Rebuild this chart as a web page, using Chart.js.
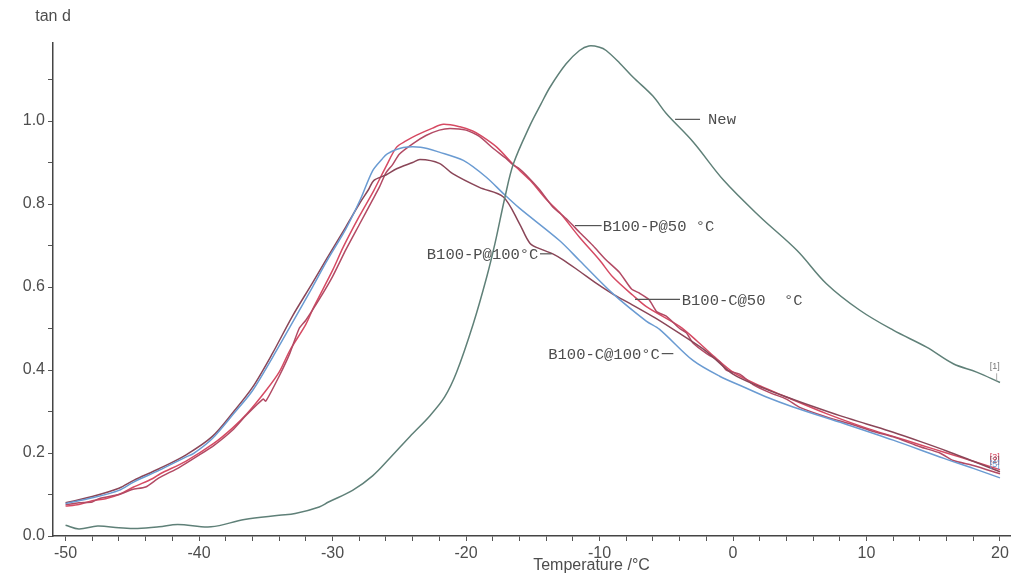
<!DOCTYPE html>
<html>
<head>
<meta charset="utf-8">
<script src="https://cdn.jsdelivr.net/npm/chart.js@4.4.1/dist/chart.umd.min.js"></script>
<style>
  html, body { margin: 0; padding: 0; background: #ffffff; }
  #wrap { width: 1014px; height: 581px; position: relative; }
</style>
</head>
<body>
<div id="wrap"><canvas id="chart"></canvas></div>
<script>
// Loss factor (tan d) versus temperature, DMA sweep
const tempNew = [-50, -49, -47.6, -46, -44.6, -43, -41.6, -39.1, -36.6, -34, -32.8, -31, -30.3, -28.5, -27, -25.7, -24.2, -22.7, -21.6, -20.7, -19.45, -18.45, -17.83, -17.08, -16.45, -15.2, -14.4, -13.7, -12.5, -11.5, -10.8, -10, -9.5, -8.5, -7.5, -6, -5, -3, -0.7, 2, 4.8, 7, 9.5, 12, 14.5, 16.5, 18.25, 20];
const tanNew = [0.026, 0.017, 0.024, 0.02, 0.018, 0.022, 0.028, 0.022, 0.04, 0.05, 0.054, 0.07, 0.082, 0.11, 0.145, 0.188, 0.24, 0.29, 0.335, 0.395, 0.512, 0.624, 0.705, 0.817, 0.897, 0.99, 1.04, 1.082, 1.138, 1.17, 1.181, 1.178, 1.17, 1.14, 1.106, 1.06, 1.018, 0.95, 0.857, 0.77, 0.688, 0.608, 0.544, 0.496, 0.455, 0.415, 0.395, 0.37];

const tempP50 = [-50, -49, -48, -47, -46, -44.9, -43.5, -42.9, -41, -38.9, -37.5, -36.4, -35, -34, -33.2, -32, -31.4, -30, -29.2, -28, -26.9, -26, -25.2, -24.5, -23.7, -22.5, -21.7, -20.45, -19.5, -18.95, -17.7, -16.45, -15.2, -13.96, -13, -11.5, -10, -9, -7.5, -6.46, -4, -2.7, -1.5, 0, 2, 4, 7, 10, 12, 14, 16, 18, 20];
const tanP50 = [0.072, 0.076, 0.085, 0.09, 0.1, 0.118, 0.138, 0.15, 0.18, 0.223, 0.26, 0.295, 0.35, 0.395, 0.447, 0.51, 0.552, 0.64, 0.696, 0.77, 0.833, 0.89, 0.937, 0.952, 0.966, 0.983, 0.992, 0.986, 0.976, 0.966, 0.937, 0.895, 0.857, 0.81, 0.78, 0.72, 0.665, 0.624, 0.58, 0.552, 0.505, 0.47, 0.435, 0.395, 0.362, 0.335, 0.295, 0.26, 0.24, 0.22, 0.2, 0.18, 0.16];

const tempC50 = [-50, -49, -48, -47.5, -46, -45, -44, -43, -41.5, -40, -38.9, -37.5, -36.5, -35.2, -35, -34, -33.2, -32.5, -32, -31, -30, -29, -28, -27, -26.5, -26, -25.5, -25, -24, -23, -22, -21.2, -20, -19, -18, -17, -16.5, -16, -15.5, -14.5, -13.5, -12.5, -11.5, -10.5, -9.5, -8.5, -7.6, -7, -6.3, -5.7, -5, -4, -3.5, -3, -2, -1, -0.5, 0.5, 1.5, 2.8, 4, 5, 7, 9, 10.5, 12, 14, 15.5, 16.5, 18, 20];
const tanC50 = [0.075, 0.08, 0.082, 0.09, 0.1, 0.112, 0.118, 0.14, 0.165, 0.195, 0.218, 0.255, 0.29, 0.33, 0.325, 0.385, 0.44, 0.5, 0.52, 0.57, 0.625, 0.69, 0.75, 0.81, 0.84, 0.875, 0.895, 0.92, 0.945, 0.965, 0.978, 0.982, 0.978, 0.963, 0.935, 0.91, 0.895, 0.885, 0.87, 0.835, 0.793, 0.765, 0.732, 0.7, 0.665, 0.635, 0.595, 0.585, 0.57, 0.54, 0.53, 0.5, 0.49, 0.465, 0.44, 0.42, 0.4, 0.39, 0.365, 0.345, 0.33, 0.31, 0.287, 0.268, 0.252, 0.239, 0.215, 0.2, 0.182, 0.17, 0.15];

const tempP100 = [-50, -48, -46, -44.9, -43, -41, -39, -37.4, -36, -34.5, -33, -31.5, -30.4, -29, -28, -27.3, -26.9, -26, -25.2, -24, -23.45, -22, -21, -19, -17.2, -16, -15.2, -14.3, -13.5, -12.7, -11.5, -10.2, -9, -7.7, -5.8, -4, -2, 0, 2, 4, 6, 8, 10, 12, 14, 16, 18, 20];
const tanP100 = [0.08, 0.095, 0.115, 0.134, 0.162, 0.195, 0.24, 0.3, 0.358, 0.44, 0.53, 0.61, 0.67, 0.745, 0.8, 0.835, 0.857, 0.87, 0.885, 0.9, 0.907, 0.898, 0.873, 0.84, 0.817, 0.753, 0.705, 0.69, 0.68, 0.665, 0.638, 0.608, 0.583, 0.56, 0.525, 0.488, 0.445, 0.39, 0.36, 0.335, 0.312, 0.29, 0.27, 0.25, 0.228, 0.205, 0.18, 0.155];

const tempC100 = [-50, -48, -46, -44.9, -43, -41, -40.4, -39, -37.4, -36, -34.5, -32.9, -31.5, -30.4, -29, -27.9, -27, -26.3, -25.9, -24.7, -23.4, -22, -20.2, -18.5, -17.2, -16, -13, -11.5, -9, -6.5, -5.5, -3, -1, 0.8, 2.5, 4.5, 8.3, 12, 15.8, 18, 20];
const tanC100 = [0.078, 0.092, 0.11, 0.13, 0.158, 0.19, 0.199, 0.235, 0.295, 0.35, 0.43, 0.52, 0.6, 0.664, 0.74, 0.812, 0.88, 0.908, 0.921, 0.936, 0.937, 0.925, 0.905, 0.865, 0.825, 0.79, 0.712, 0.664, 0.584, 0.518, 0.498, 0.423, 0.385, 0.359, 0.335, 0.311, 0.271, 0.231, 0.187, 0.163, 0.14];

// Axis ticks
const xMajorTicks = [-50, -40, -30, -20, -10, 0, 10, 20];
const xMinorStep = 2;
const yMajorTicks = [0.0, 0.2, 0.4, 0.6, 0.8, 1.0];
const yMinorTicks = [0.1, 0.3, 0.5, 0.7, 0.9, 1.1];

// Curve captions: text, anchor (temperature, tan d), leader segment in temperature
const captionText = ['New', 'B100-P@50 \u00B0C', 'B100-P@100\u00B0C', 'B100-C@50  \u00B0C', 'B100-C@100\u00B0C'];
const captionTemp = [-1.87, -9.76, -22.94, -3.84, -13.84];
const captionTan = [1.004, 0.748, 0.680, 0.570, 0.4395];
const leaderFrom = [-4.34, -11.84, -14.46, -7.34, -5.34];
const leaderTo = [-2.47, -9.84, -13.58, -3.97, -4.47];

const C_NEW = '#5f8078';
const C_P50 = '#d64a63';
const C_C50 = '#b24a64';
const C_P100 = '#8a4658';
const C_C100 = '#6a9bd2';
const TEXT = '#4d4d4d';

function pts(t, v) { return t.map((x, i) => ({ x: x, y: v[i] })); }

const xTickValues = [];
for (let t = -50; t <= 20; t += xMinorStep) xTickValues.push(t);
const yTickValues = yMajorTicks.concat(yMinorTicks).sort((a, b) => a - b);

function ds(label, t, v, color, tension) {
  return {
    label: label, data: pts(t, v), borderColor: color, borderWidth: 1.5,
    pointRadius: 0, fill: false, tension: tension
  };
}

const annotations = {
  id: 'annotations',
  afterDatasetsDraw(chart) {
    const ctx = chart.ctx, xs = chart.scales.x, ys = chart.scales.y;
    ctx.save();
    // axis captions
    ctx.fillStyle = TEXT;
    ctx.font = '16px "Liberation Sans", Arial, sans-serif';
    ctx.textAlign = 'center';
    ctx.textBaseline = 'middle';
    ctx.fillText('tan d', xs.left, 17);
    ctx.fillText('Temperature /\u00B0C', xs.getPixelForValue(-10.6), 566);

    // curve captions with leader lines
    ctx.strokeStyle = '#555';
    ctx.lineWidth = 1.2;
    ctx.font = '15.5px "Liberation Mono", "DejaVu Sans Mono", monospace';
    ctx.textAlign = 'left';
    for (let i = 0; i < captionText.length; i++) {
      const py = ys.getPixelForValue(captionTan[i]);
      ctx.beginPath();
      ctx.moveTo(xs.getPixelForValue(leaderFrom[i]), py);
      ctx.lineTo(xs.getPixelForValue(leaderTo[i]), py);
      ctx.stroke();
      ctx.fillText(captionText[i], xs.getPixelForValue(captionTemp[i]), py + 1);
    }

    // curve end markers
    ctx.font = '9px "Liberation Sans", Arial, sans-serif';
    ctx.textAlign = 'center';
    ctx.fillStyle = '#777';
    const xe = xs.getPixelForValue(19.6);
    ctx.fillText('[1]', xe, ys.getPixelForValue(0.408));
    ctx.strokeStyle = '#999';
    ctx.lineWidth = 0.8;
    ctx.beginPath();
    ctx.moveTo(xe + 2, ys.getPixelForValue(0.392));
    ctx.lineTo(xe + 2, ys.getPixelForValue(0.372));
    ctx.stroke();
    ctx.fillStyle = C_P50;
    ctx.fillText('[3]', xe, ys.getPixelForValue(0.19));
    ctx.fillStyle = C_P100;
    ctx.fillText('[2]', xe, ys.getPixelForValue(0.183));
    ctx.fillStyle = C_C100;
    ctx.fillText('[5]', xe, ys.getPixelForValue(0.172));
    ctx.restore();
  }
};

new Chart(document.getElementById('chart'), {
  type: 'line',
  data: {
    datasets: [
      ds('New', tempNew, tanNew, C_NEW, 0.35),
      ds('B100-C@100\u00B0C', tempC100, tanC100, C_C100, 0.3),
      ds('B100-P@100\u00B0C', tempP100, tanP100, C_P100, 0.3),
      ds('B100-C@50 \u00B0C', tempC50, tanC50, C_C50, 0.2),
      ds('B100-P@50 \u00B0C', tempP50, tanP50, C_P50, 0.3)
    ]
  },
  options: {
    animation: false,
    responsive: true,
    maintainAspectRatio: false,
    layout: { padding: { top: 43, right: 4, left: 0, bottom: 0 } },
    plugins: { legend: { display: false }, tooltip: { enabled: false } },
    scales: {
      x: {
        type: 'linear', min: -50.94, max: 20.75,
        afterBuildTicks(s) { s.ticks = xTickValues.map(v => ({ value: v })); },
        afterFit(s) { s.height = 45; },
        ticks: {
          autoSkip: false, maxRotation: 0, color: TEXT, padding: 3,
          font: { family: '"Liberation Sans", Arial, sans-serif', size: 16 },
          callback(v) { return xMajorTicks.includes(Math.round(v)) && Math.abs(v - Math.round(v)) < 1e-6 ? String(Math.round(v)) : ''; }
        },
        grid: { display: true, drawOnChartArea: false, drawTicks: true, tickLength: 5, color: '#555', lineWidth: 1 },
        border: { display: true, color: '#444', width: 1.5 }
      },
      y: {
        type: 'linear', min: 0, max: 1.188,
        afterBuildTicks(s) { s.ticks = yTickValues.map(v => ({ value: v })); },
        afterFit(s) { s.width = 53; },
        ticks: {
          autoSkip: false, color: TEXT, padding: 3,
          font: { family: '"Liberation Sans", Arial, sans-serif', size: 16 },
          callback(v) {
            const m = yMajorTicks.find(t => Math.abs(t - v) < 1e-6);
            return m === undefined ? '' : m.toFixed(1);
          }
        },
        grid: { display: true, drawOnChartArea: false, drawTicks: true, tickLength: 5, color: '#555', lineWidth: 1 },
        border: { display: true, color: '#444', width: 1.5 }
      }
    }
  },
  plugins: [annotations]
});
</script>
</body>
</html>
